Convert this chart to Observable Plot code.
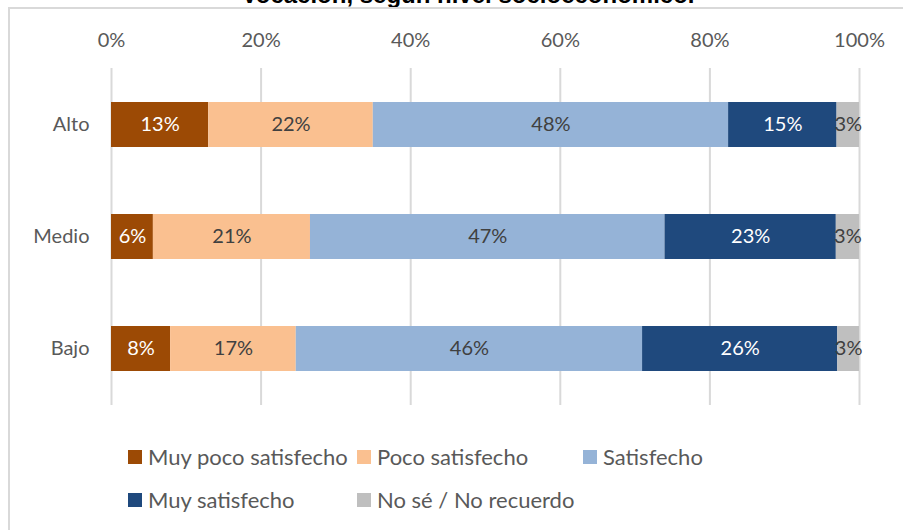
<!DOCTYPE html>
<html>
<head>
<meta charset="utf-8">
<script src="https://cdn.jsdelivr.net/npm/d3@7"></script>
<script src="https://cdn.jsdelivr.net/npm/@observablehq/plot@0.6"></script>
<style>
  html, body { margin: 0; padding: 0; background: #fff; }
  #wrap { position: relative; width: 903px; height: 530px; overflow: hidden; font-family: Lato, "Open Sans", sans-serif; }
  #title { position: absolute; left: 0; width: 936px; top: -19px; text-align: center; font: bold 24px "Liberation Sans", Arial, sans-serif; color: #000; }
  #frame { position: absolute; left: 8px; top: 7px; width: 1000px; height: 600px; border-left: 2px solid #d9d9d9; border-top: 2px solid #d9d9d9; }
  #chart { position: absolute; left: 0; top: 0; }
  .leg { position: absolute; font-size: 22px; color: #595959; display: flex; align-items: center; white-space: nowrap; }
  .leg i { display: inline-block; width: 14px; height: 14px; margin-right: 6px; }
</style>
</head>
<body>
<div id="wrap">
  <div id="title">Vocación, según nivel socioeconómico.</div>
  <div id="frame"></div>
  <div id="chart"></div>
  <div id="legend"></div>
</div>
<script>
const niveles = ["Alto", "Medio", "Bajo"];
const categorias = ["Muy poco satisfecho", "Poco satisfecho", "Satisfecho", "Muy satisfecho", "No sé / No recuerdo"];
const colores = ["#9C4A05", "#FAC090", "#95B3D7", "#1F497D", "#BFBFBF"];
const textoColores = ["#ffffff", "#404040", "#404040", "#ffffff", "#404040"];
const alto = [13, 22, 47.5, 14.5, 3];
const medio = [5.6, 21, 47.4, 22.9, 3.1];
const bajo = [7.9, 16.8, 46.3, 26.1, 2.9];
const ticks = [0, 20, 40, 60, 80, 100];

const series = {Alto: alto, Medio: medio, Bajo: bajo};
const data = [];
for (const n of niveles) categorias.forEach((c, i) => data.push({nivel: n, cat: c, value: series[n][i], ci: i}));

const font = "Lato, 'Open Sans', sans-serif";
const chart = Plot.plot({
  width: 903,
  height: 420,
  marginLeft: 111,
  marginRight: 44,
  marginTop: 68,
  marginBottom: 15,
  style: {fontFamily: font, fontSize: "20px", color: "#595959", background: "transparent", overflow: "visible"},
  x: {domain: [0, 100], ticks: ticks, tickFormat: d => d + "%", axis: "top", tickSize: 0, tickPadding: 22, label: null},
  y: {domain: niveles, paddingInner: 0.6, paddingOuter: 0.3, tickSize: 0, tickPadding: 22, label: null},
  color: {domain: categorias, range: colores},
  marks: [
    Plot.ruleX(ticks, {stroke: "#d9d9d9", strokeWidth: 2}),
    Plot.barX(data, Plot.stackX({x: "value", y: "nivel", z: "cat", fill: "cat", order: null})),
    Plot.text(data, Plot.filter(d => textoColores[d.ci] === "#ffffff", Plot.stackX({x: "value", y: "nivel", z: "cat", order: null, text: d => Math.round(d.value) + "%", fill: "#ffffff", fontSize: 20}))),
    Plot.text(data, Plot.filter(d => textoColores[d.ci] !== "#ffffff", Plot.stackX({x: "value", y: "nivel", z: "cat", order: null, text: d => Math.round(d.value) + "%", fill: "#404040", fontSize: 20})))
  ]
});
document.getElementById("chart").appendChild(chart);

const legPos = [[128, 457], [357, 457], [583, 457], [128, 500], [357, 500]];
const leg = document.getElementById("legend");
categorias.forEach((c, i) => {
  const d = document.createElement("div");
  d.className = "leg";
  d.style.left = legPos[i][0] + "px";
  d.style.top = (legPos[i][1] - 14) + "px";
  d.innerHTML = `<i style="background:${colores[i]}"></i>${c}`;
  leg.appendChild(d);
});
</script>
</body>
</html>
